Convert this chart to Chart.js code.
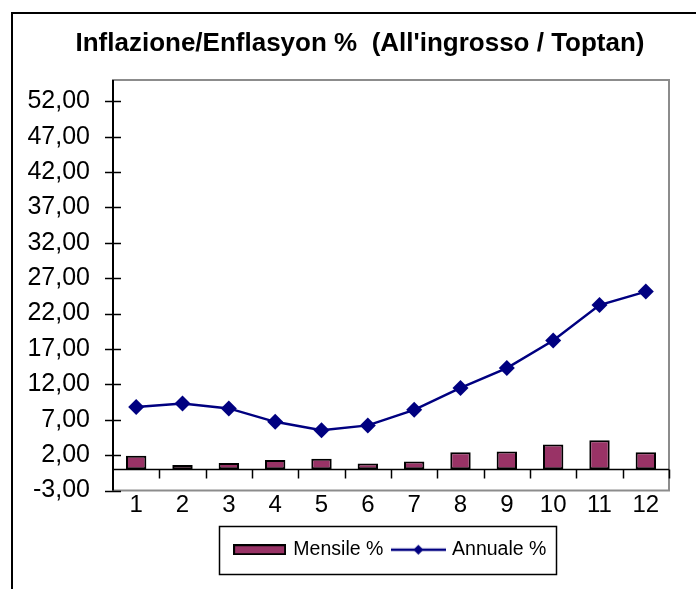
<!DOCTYPE html>
<html>
<head>
<meta charset="utf-8">
<script src="https://cdn.jsdelivr.net/npm/chart.js@4/dist/chart.umd.min.js"></script>
<style>
  html, body { margin: 0; padding: 0; background: #ffffff; }
  canvas { display: block; }
</style>
</head>
<body>
<canvas id="c" width="696" height="589"></canvas>
<script>
// ---- data ----
const categories = ['1', '2', '3', '4', '5', '6', '7', '8', '9', '10', '11', '12'];
const mensile = [1.9, 0.6, 0.9, 1.3, 1.5, 0.8, 1.1, 2.4, 2.5, 3.5, 4.1, 2.4];
const annuale = [8.8, 9.3, 8.6, 6.7, 5.5, 6.2, 8.4, 11.5, 14.3, 18.2, 23.2, 25.1];
const yTicks = [-3, 2, 7, 12, 17, 22, 27, 32, 37, 42, 47, 52];
const seriesNames = ['Mensile %', 'Annuale %'];
const titleText = "Inflazione/Enflasyon %  (All'ingrosso / Toptan)";

const FONT = "'Liberation Sans', Arial, sans-serif";
const BAR_COLOR = '#993366';
const LINE_COLOR = '#000080';

// legend swatches
function makeBarSwatch() {
  const c = document.createElement('canvas');
  c.width = 53; c.height = 11;
  const g = c.getContext('2d');
  g.fillStyle = BAR_COLOR;
  g.fillRect(1, 1, 51, 9);
  g.strokeStyle = '#000'; g.lineWidth = 2;
  g.strokeRect(1, 1, 51, 9);
  return c;
}
function makeLineSwatch() {
  const c = document.createElement('canvas');
  c.width = 55; c.height = 14;
  const g = c.getContext('2d');
  g.strokeStyle = LINE_COLOR; g.lineWidth = 2.5;
  g.beginPath(); g.moveTo(0, 7); g.lineTo(55, 7); g.stroke();
  g.fillStyle = LINE_COLOR;
  g.beginPath(); g.moveTo(27.5, 2); g.lineTo(32.5, 7); g.lineTo(27.5, 12); g.lineTo(22.5, 7); g.closePath(); g.fill();
  return c;
}
const barSwatch = makeBarSwatch();
const lineSwatch = makeLineSwatch();

const decor = {
  id: 'decor',
  beforeDatasetsDraw(chart) {
    const { ctx, chartArea: a } = chart;
    ctx.save();
    ctx.strokeStyle = '#8c8c8c';
    ctx.lineWidth = 2;
    ctx.strokeRect(a.left, a.top, a.right - a.left, a.bottom - a.top);
    ctx.restore();
  },
  afterDatasetsDraw(chart) {
    const { ctx, chartArea: a, scales } = chart;
    const x = scales.x, y = scales.y;
    ctx.save();
    ctx.strokeStyle = '#000';
    ctx.lineWidth = 2;
    // y axis line
    ctx.beginPath(); ctx.moveTo(a.left, a.top); ctx.lineTo(a.left, a.bottom); ctx.stroke();
    // y ticks (cross)
    ctx.lineWidth = 1.5;
    y.ticks.forEach((t, i) => {
      const py = Math.round(y.getPixelForTick(i)) + 0.5;
      ctx.beginPath(); ctx.moveTo(a.left - 8, py); ctx.lineTo(a.left + 8, py); ctx.stroke();
    });
    // zero line (category axis)
    const y0 = Math.round(y.getPixelForValue(0)) + 0.5;
    ctx.lineWidth = 1.5;
    ctx.beginPath(); ctx.moveTo(a.left, y0); ctx.lineTo(a.right, y0); ctx.stroke();
    // category ticks between categories
    for (let i = 0; i < categories.length; i++) {
      const px = Math.round(x.getPixelForValue(i + 0.5)) + 0.5;
      ctx.beginPath(); ctx.moveTo(px, y0); ctx.lineTo(px, y0 + 9); ctx.stroke();
    }
    ctx.restore();
  },
  afterDraw(chart) {
    const { ctx } = chart;
    ctx.save();
    // outer chart border
    ctx.strokeStyle = '#000';
    ctx.lineWidth = 2;
    ctx.strokeRect(12, 13, 800, 800);
    // legend border
    const lg = chart.legend;
    if (lg && lg.legendHitBoxes && lg.legendHitBoxes.length) {
      const hb = lg.legendHitBoxes;
      const left = hb[0].left - 17;
      const last = hb[hb.length - 1];
      const right = last.left + last.width + 9;
      const cy = hb[0].top + hb[0].height / 2;
      ctx.lineWidth = 1.5;
      ctx.strokeRect(Math.round(left) + 0.5, Math.round(cy - 24) + 0.5, Math.round(right - left), 48);
    }
    ctx.restore();
  }
};

new Chart(document.getElementById('c'), {
  data: {
    labels: categories,
    datasets: [
      {
        type: 'bar',
        label: seriesNames[0],
        data: mensile,
        backgroundColor: BAR_COLOR,
        borderColor: '#000',
        borderWidth: 2,
        borderSkipped: false,
        categoryPercentage: 1,
        barPercentage: 0.44,
        order: 1
      },
      {
        type: 'line',
        label: seriesNames[1],
        data: annuale,
        borderColor: LINE_COLOR,
        backgroundColor: LINE_COLOR,
        borderWidth: 2.5,
        tension: 0,
        pointStyle: 'rectRot',
        pointRadius: 8,
        pointBackgroundColor: LINE_COLOR,
        pointBorderWidth: 0,
        order: 0
      }
    ]
  },
  options: {
    responsive: false,
    animation: false,
    layout: { padding: { left: 24, right: 0, top: 0, bottom: 19.5 } },
    scales: {
      x: {
        type: 'category',
        offset: true,
        grid: { display: false, drawTicks: false },
        border: { display: false },
        ticks: { color: '#000', font: { family: FONT, size: 24 }, padding: 0, maxRotation: 0 },
        afterFit(scale) { scale.height = 38.5; }
      },
      y: {
        type: 'linear',
        position: 'left',
        min: -3,
        max: 55,
        grid: { display: false, drawTicks: true, tickLength: 8 },
        border: { display: false },
        ticks: {
          color: '#000',
          font: { family: FONT, size: 25 },
          padding: 15,
          callback: (v) => Number(v).toFixed(2).replace('.', ',')
        },
        afterBuildTicks(scale) { scale.ticks = yTicks.map(v => ({ value: v })); },
        afterFit(scale) { scale.width = 89; }
      },
      yRight: {
        type: 'linear',
        position: 'right',
        display: true,
        grid: { display: false, drawTicks: false },
        border: { display: false },
        ticks: { display: false },
        afterFit(scale) { scale.width = 27; }
      }
    },
    plugins: {
      title: {
        display: true,
        text: titleText,
        color: '#000',
        font: { family: FONT, size: 26, weight: 'bold' },
        padding: { top: 28.4, bottom: 20.4 }
      },
      legend: {
        display: true,
        position: 'bottom',
        fullSize: false,
        labels: {
          usePointStyle: true,
          pointStyleWidth: 48,
          boxHeight: 12,
          padding: 11,
          color: '#000',
          font: { family: FONT, size: 19.5 },
          generateLabels: () => [
            { text: seriesNames[0], pointStyle: barSwatch, fillStyle: BAR_COLOR, strokeStyle: '#000', lineWidth: 0, hidden: false, datasetIndex: 0, fontColor: '#000' },
            { text: seriesNames[1], pointStyle: lineSwatch, fillStyle: LINE_COLOR, strokeStyle: LINE_COLOR, lineWidth: 0, hidden: false, datasetIndex: 1, fontColor: '#000' }
          ]
        }
      },
      tooltip: { enabled: false }
    }
  },
  plugins: [decor]
});
</script>
</body>
</html>
